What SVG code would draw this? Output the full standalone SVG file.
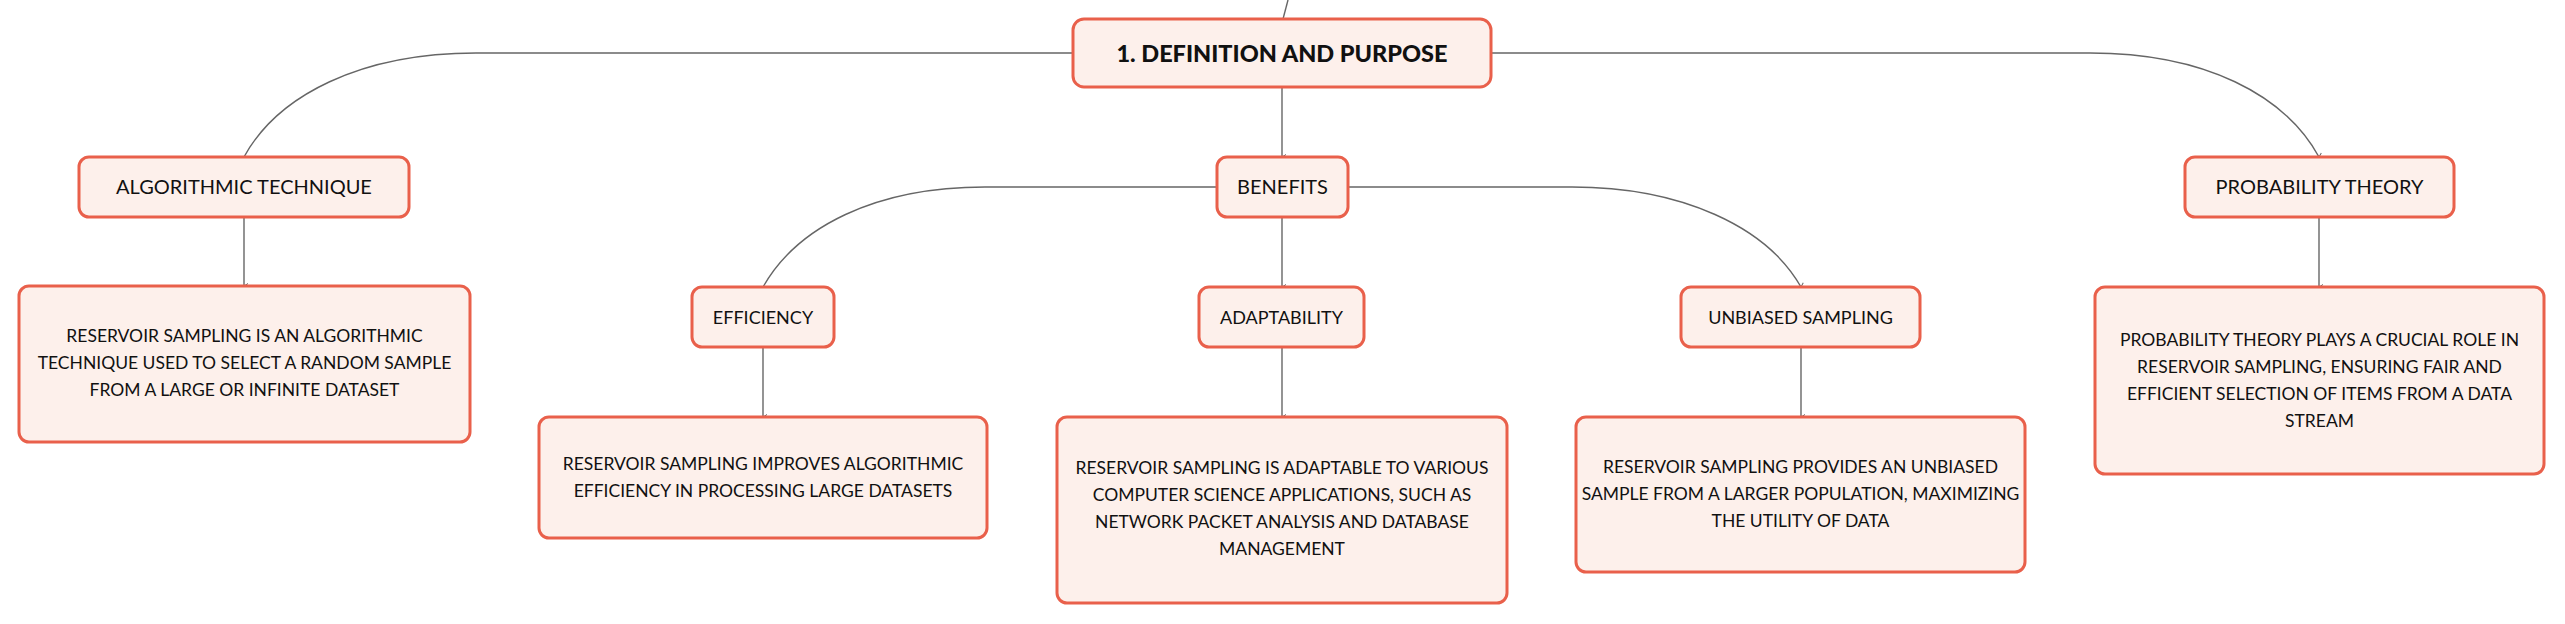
<svg xmlns="http://www.w3.org/2000/svg" width="2565" height="624" viewBox="0 0 2565 624">
<style>
.box{fill:#FDF0EB;stroke:#E9604B;stroke-width:3}
.t{font-family:Lato,"Open Sans","Liberation Sans",sans-serif;fill:#111;text-anchor:middle}
.root{font-size:23.5px;font-weight:900}
.l1{font-size:20px}
.l2{font-size:18px}
.d{font-size:17.5px}
.c{fill:none;stroke:#666;stroke-width:1.4}
</style>
<defs>
<marker id="ah" markerUnits="userSpaceOnUse" markerWidth="8" markerHeight="8" refX="4" refY="7" orient="auto-start-reverse" viewBox="0 0 8 8">
<path d="M1.5 3 L4 7 L6.5 3" fill="none" stroke="#666" stroke-width="1"/>
</marker>
</defs>
<rect width="2565" height="624" fill="#fff"/>
<g id="connectors">
<path class="c" d="M1283 19 L1288 0"/>
<path class="c" d="M1073 53 H476 C361 53 278 95 244 157" marker-end="url(#ah)"/>
<path class="c" d="M1491 53 H2090 C2205 53 2285 95 2319 157" marker-end="url(#ah)"/>
<path class="c" d="M1282 87 V157" marker-end="url(#ah)"/>
<path class="c" d="M1217 187 H985 C875 187 797 227 763 287" marker-end="url(#ah)"/>
<path class="c" d="M1348 187 H1572 C1682 187 1767 227 1801 287" marker-end="url(#ah)"/>
<path class="c" d="M1282 217 V287" marker-end="url(#ah)"/>
<path class="c" d="M244 217 V286" marker-end="url(#ah)"/>
<path class="c" d="M763 347 V417" marker-end="url(#ah)"/>
<path class="c" d="M1282 347 V417" marker-end="url(#ah)"/>
<path class="c" d="M1801 348 V417" marker-end="url(#ah)"/>
<path class="c" d="M2319 217 V287" marker-end="url(#ah)"/>
</g>
<g id="root">
<rect class="box" x="1073" y="19" width="418" height="68" rx="11"/>
<text class="t root" x="1282" y="62">1. DEFINITION AND PURPOSE</text>
</g>
<g id="algorithmic-technique">
<rect class="box" x="79" y="157" width="330" height="60" rx="10"/>
<text class="t l1" x="244" y="194">ALGORITHMIC TECHNIQUE</text>
</g>
<g id="algorithmic-technique-desc">
<rect class="box" x="19" y="286" width="451" height="156" rx="10"/>
<text class="t d" x="244.5" y="342">RESERVOIR SAMPLING IS AN ALGORITHMIC</text>
<text class="t d" x="244.5" y="369">TECHNIQUE USED TO SELECT A RANDOM SAMPLE</text>
<text class="t d" x="244.5" y="396">FROM A LARGE OR INFINITE DATASET</text>
</g>
<g id="benefits">
<rect class="box" x="1217" y="157" width="131" height="60" rx="10"/>
<text class="t l1" x="1282.5" y="194">BENEFITS</text>
</g>
<g id="efficiency">
<rect class="box" x="692" y="287" width="142" height="60" rx="10"/>
<text class="t l2" x="763" y="323.5">EFFICIENCY</text>
</g>
<g id="efficiency-desc">
<rect class="box" x="539" y="417" width="448" height="121" rx="10"/>
<text class="t d" x="763" y="470">RESERVOIR SAMPLING IMPROVES ALGORITHMIC</text>
<text class="t d" x="763" y="497">EFFICIENCY IN PROCESSING LARGE DATASETS</text>
</g>
<g id="adaptability">
<rect class="box" x="1199" y="287" width="165" height="60" rx="10"/>
<text class="t l2" x="1281.5" y="323.5">ADAPTABILITY</text>
</g>
<g id="adaptability-desc">
<rect class="box" x="1057" y="417" width="450" height="186" rx="10"/>
<text class="t d" x="1282" y="474">RESERVOIR SAMPLING IS ADAPTABLE TO VARIOUS</text>
<text class="t d" x="1282" y="501">COMPUTER SCIENCE APPLICATIONS, SUCH AS</text>
<text class="t d" x="1282" y="528">NETWORK PACKET ANALYSIS AND DATABASE</text>
<text class="t d" x="1282" y="555">MANAGEMENT</text>
</g>
<g id="unbiased-sampling">
<rect class="box" x="1681" y="287" width="239" height="60" rx="10"/>
<text class="t l2" x="1800.5" y="323.5">UNBIASED SAMPLING</text>
</g>
<g id="unbiased-sampling-desc">
<rect class="box" x="1576" y="417" width="449" height="155" rx="10"/>
<text class="t d" x="1800.5" y="473">RESERVOIR SAMPLING PROVIDES AN UNBIASED</text>
<text class="t d" x="1800.5" y="500">SAMPLE FROM A LARGER POPULATION, MAXIMIZING</text>
<text class="t d" x="1800.5" y="527">THE UTILITY OF DATA</text>
</g>
<g id="probability-theory">
<rect class="box" x="2185" y="157" width="269" height="60" rx="10"/>
<text class="t l1" x="2319.5" y="194">PROBABILITY THEORY</text>
</g>
<g id="probability-theory-desc">
<rect class="box" x="2095" y="287" width="449" height="187" rx="10"/>
<text class="t d" x="2319.5" y="346">PROBABILITY THEORY PLAYS A CRUCIAL ROLE IN</text>
<text class="t d" x="2319.5" y="373">RESERVOIR SAMPLING, ENSURING FAIR AND</text>
<text class="t d" x="2319.5" y="400">EFFICIENT SELECTION OF ITEMS FROM A DATA</text>
<text class="t d" x="2319.5" y="427">STREAM</text>
</g>
</svg>
